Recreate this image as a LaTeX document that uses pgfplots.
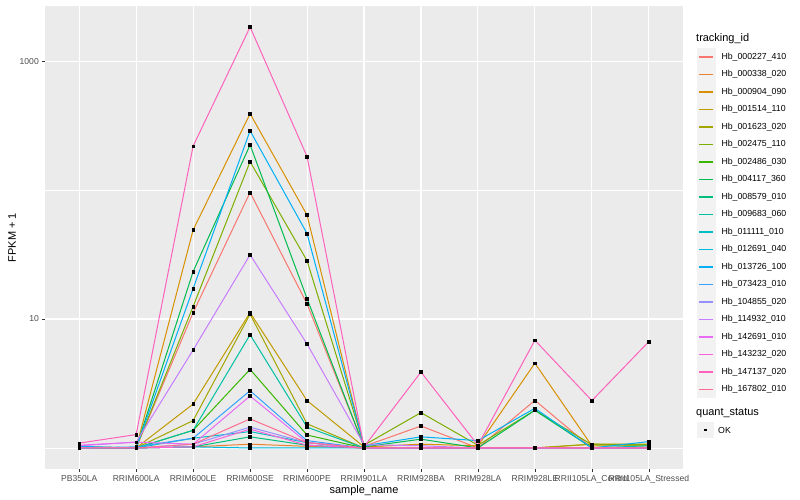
\documentclass[border=0pt]{standalone}
\usepackage{pgfplots}
\pgfplotsset{compat=1.18}
\usepackage{pgfplotstable}
\usepackage{fontspec}
\setmainfont{Liberation Sans}

\definecolor{panelbg}{HTML}{EBEBEB}
\definecolor{keybg}{HTML}{F2F2F2}
\definecolor{tickgray}{HTML}{333333}
\definecolor{labelgray}{HTML}{4D4D4D}
\definecolor{c1}{HTML}{F8766D}
\definecolor{c2}{HTML}{EA8331}
\definecolor{c3}{HTML}{D89000}
\definecolor{c4}{HTML}{C09B00}
\definecolor{c5}{HTML}{A3A500}
\definecolor{c6}{HTML}{7CAE00}
\definecolor{c7}{HTML}{39B600}
\definecolor{c8}{HTML}{00BB4E}
\definecolor{c9}{HTML}{00BF7D}
\definecolor{c10}{HTML}{00C1A3}
\definecolor{c11}{HTML}{00BFC4}
\definecolor{c12}{HTML}{00BAE0}
\definecolor{c13}{HTML}{00B0F6}
\definecolor{c14}{HTML}{35A2FF}
\definecolor{c15}{HTML}{9590FF}
\definecolor{c16}{HTML}{C77CFF}
\definecolor{c17}{HTML}{E76BF3}
\definecolor{c18}{HTML}{FA62DB}
\definecolor{c19}{HTML}{FF62BC}
\definecolor{c20}{HTML}{FF6C91}

% FPKM + 1 per sample (rows) and tracking_id (columns s1..s20)
\pgfplotstableread{
x  s1   s2   s3   s4   s5   s6   s7   s8   s9   s10  s11  s12  s13  s14  s15  s16  s17  s18  s19  s20
0  1    1.02 1.02 1    1    1    1    1    1    1    1    1    1.03 1    1    1.04 1.05 1    1.09 1
1  1    1    1    1    1    1    1    1    1    1    1    1    1    1.02 1    1.11 1.11 1    1.27 1
2  11.2 1.02 49   2.19 1.63 12.5 1.37 23.3 1.02 1.37 1.19 1.02 17.2 1.19 1.07 5.75 1.07 1.02 219  1.07
3  96   1.07 391  11.2 10.9 166  4.07 224  1.22 7.56 1.34 1    288  2.78 1.45 31.5 2.53 1.40 1836 1.68
4  13.1 1.03 64   2.33 1.54 28.3 1.26 14.4 1.05 1.45 1.10 1    46   1.14 1.10 6.4  1.10 1.05 182  1.10
5  1.03 1    1.02 1.02 1    1.05 1    1.02 1    1    1    1    1.04 1    1    1.06 1    1    1.02 1
6  1.48 1    1.07 1    1    1.88 1    1.17 1    1    1    1    1.22 1    1    1.04 1    1    3.88 1
7  1    1    1.04 1    1    1.05 1    1    1    1    1    1    1.14 1    1    1    1    1    1.05 1
8  2.34 1    4.54 1    1    1.96 1    1.96 1    1    1    1    2.03 1    1    1    1    1    6.84 1
9  1    1    1.04 1.07 1.07 1.06 1    1    1    1    1    1    1    1    1    1    1    1    2.33 1
10 1    1    1.04 1.07 1.06 1.05 1    1    1    1    1.04 1    1.12 1    1    1    1    1    6.68 1
}\data

\begin{document}
\begin{tikzpicture}
\useasboundingbox (0bp,0bp) rectangle (800bp,500bp);
\begin{axis}[
  at={(45bp,31bp)}, anchor=south west,
  scale only axis, width=638bp, height=463bp,
  axis background/.style={fill=panelbg},
  axis line style={draw=none},
  xmin=-0.6, xmax=10.6,
  xtick={0,...,10},
  xticklabels={PB350LA,RRIM600LA,RRIM600LE,RRIM600SE,RRIM600PE,RRIM901LA,RRIM928BA,RRIM928LA,RRIM928LE,RRII105LA\_Control,RRII105LA\_Stressed},
  ymode=log, ymin=0.687, ymax=2673,
  ytick={10,1000}, yticklabels={10,1000},
  minor ytick={1,100},
  xmajorgrids, ymajorgrids, yminorgrids,
  major grid style={white, line width=1.07bp},
  minor grid style={white, line width=0.53bp},
  tick align=outside, tick pos=left,
  major tick length=2.7bp, minor tick length=0pt,
  tick style={color=tickgray, line width=0.53bp},
  ticklabel style={font=\fontsize{8.6}{10}\selectfont, text=labelgray},
  xlabel={sample\_name},
  ylabel={FPKM + 1},
  label style={font=\fontsize{11}{13}\selectfont},
  xlabel style={at={(axis description cs:0.5,-0.046)}, anchor=center},
  ylabel style={at={(axis description cs:-0.0517,0.5)}, anchor=center},
  legend entries={Hb\_000227\_410,Hb\_000338\_020,Hb\_000904\_090,Hb\_001514\_110,Hb\_001623\_020,Hb\_002475\_110,Hb\_002486\_030,Hb\_004117\_360,Hb\_008579\_010,Hb\_009683\_060,Hb\_011111\_010,Hb\_012691\_040,Hb\_013726\_100,Hb\_073423\_010,Hb\_104855\_020,Hb\_114932\_010,Hb\_142691\_010,Hb\_143232\_020,Hb\_147137\_020,Hb\_167802\_010},
  legend style={at={(1,1)}, anchor=north west, xshift=14bp, yshift=-42bp,
    draw=none, fill=none, inner sep=0pt, row sep=0.1bp,
    font=\fontsize{8.8}{10}\selectfont,
    /tikz/every odd column/.append style={column sep=4bp}},
  legend cell align=left,
  legend image code/.code={
    \fill[keybg] (0bp,-8.2bp) rectangle (17.3bp,8.2bp);
    \draw[line width=1.5bp] (1.7bp,0bp) -- (15.6bp,0bp);
  },
]
\pgfplotsinvokeforeach{1,...,20}{
  \addplot[draw=c#1, line width=1bp, mark=none] table[x=x, y=s#1] {\data};
}
\pgfplotsinvokeforeach{1,...,20}{
  \addplot[only marks, mark=square*, mark size=1.4bp, black, forget plot] table[x=x, y=s#1] {\data};
}
\end{axis}
\node[anchor=west, font=\fontsize{11}{13}\selectfont, inner sep=0pt] at (696bp,461.5bp) {tracking\_id};
\node[anchor=west, font=\fontsize{11}{13}\selectfont, inner sep=0pt] at (696bp,87.3bp) {quant\_status};
\fill[keybg] (697bp,61.8bp) rectangle (714.3bp,78.2bp);
\fill[black] (704.25bp,68.6bp) rectangle (707.05bp,71.4bp);
\node[anchor=west, font=\fontsize{8.8}{10}\selectfont, inner sep=0pt] at (718bp,70bp) {OK};
\end{tikzpicture}
\end{document}
